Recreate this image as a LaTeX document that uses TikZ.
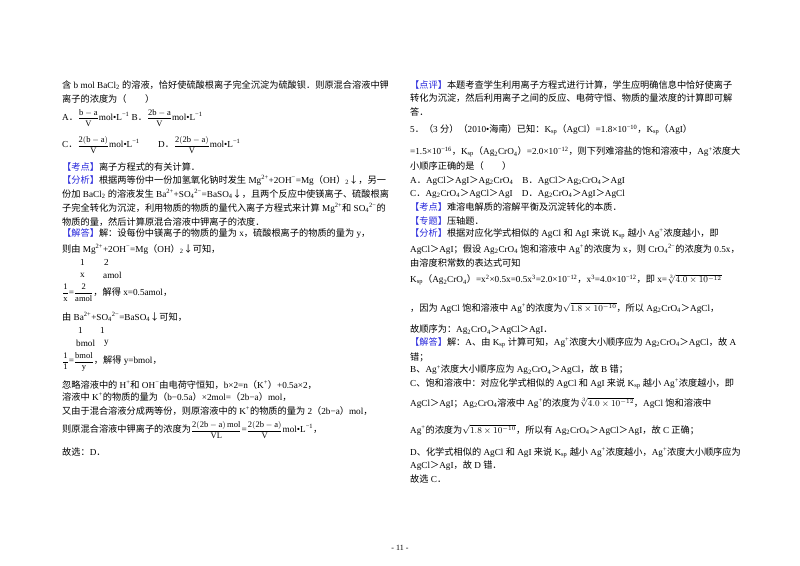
\documentclass[tikz,border=0pt]{standalone}
\usepackage{fontspec}
\usepackage{amsmath}
\setmainfont{Liberation Serif}
\newfontfamily\cjkfont{Noto Sans CJK SC}
\newfontfamily\latfont{Liberation Serif}
\XeTeXinterchartokenstate=1
\newXeTeXintercharclass\cjkclass
\newcount\cc
\def\setcls#1#2{\cc=#1 \loop\XeTeXcharclass\cc=\cjkclass\advance\cc 1 \ifnum\cc<#2 \repeat}
\setcls{"4E00}{"A000}
\setcls{"3000}{"3040}
\setcls{"FF00}{"FFF0}
\setcls{"2190}{"2194}
\XeTeXinterchartoks 0 \cjkclass = {\cjkfont}
\XeTeXinterchartoks 4095 \cjkclass = {\cjkfont}
\XeTeXinterchartoks \cjkclass 0 = {\latfont}
\XeTeXinterchartoks \cjkclass 4095 = {\latfont}
\definecolor{kblue}{RGB}{40,40,220}
\newcommand\SU[1]{\textsuperscript{#1}}
\newcommand\SB[1]{\textsubscript{#1}}
\newcommand\kd[1]{\textcolor{kblue}{\cjkfont【#1】}\cjkfont}
\newcommand\fr[2]{{\fontsize{8.5}{10}\selectfont$\dfrac{\mathrm{#1}}{\mathrm{#2}}$}}
\begin{document}
\begin{tikzpicture}[x=1pt,y=-1pt,every node/.style={anchor=west,inner sep=0pt,font=\fontsize{9.2}{11}\selectfont}]
\useasboundingbox[fill=white] (0,0) rectangle (800,565);
\node (l1) at (62,85) {含 b mol BaCl\SB{2} 的溶液，恰好使硫酸根离子完全沉淀为硫酸钡．则原混合溶液中钾};
\node (l2) at (62,99) {离子的浓度为（　　）};
\node (l3) at (62,118) {A．\fr{b-a}{V}mol•L\SU{−1} B．\fr{2b-a}{V}mol•L\SU{−1}};
\node (l4) at (62,145) {C．\fr{2(b-a)}{V}mol•L\SU{−1}\qquad D．\fr{2(2b-a)}{V}mol•L\SU{−1}};
\node (l5) at (62,167) {\kd{考点}离子方程式的有关计算．};
\node (l6) at (62,180) {\kd{分析}根据两等份中一份加氢氧化钠时发生 Mg\SU{2+}+2OH\SU{−}=Mg（OH）\SB{2}↓，另一};
\node (l7) at (62,194) {份加 BaCl\SB{2} 的溶液发生 Ba\SU{2+}+SO\SB{4}\SU{2−}=BaSO\SB{4}↓，且两个反应中使镁离子、硫酸根离};
\node (l8) at (62,208) {子完全转化为沉淀，利用物质的物质的量代入离子方程式来计算 Mg\SU{2+}和 SO\SB{4}\SU{2−}的};
\node (l9) at (62,222) {物质的量，然后计算原混合溶液中钾离子的浓度．};
\node (l10) at (62,234) {\kd{解答}解：设每份中镁离子的物质的量为 x，硫酸根离子的物质的量为 y，};
\node (l11) at (62,249) {则由 Mg\SU{2+}+2OH\SU{−}=Mg（OH）\SB{2}↓可知，};
\node (l12a) at (80,262) {1};
\node (l12b) at (104,262) {2};
\node (l13a) at (80,275) {x};
\node (l13b) at (103,275) {amol};
\node (l14) at (62,293) {\fr{1}{x}=\fr{2}{amol}，解得 x=0.5amol，};
\node (l15) at (62,317) {由 Ba\SU{2+}+SO\SB{4}\SU{2−}=BaSO\SB{4}↓可知，};
\node (l16a) at (78,330) {1};
\node (l16b) at (100,330) {1};
\node (l17a) at (76,343) {bmol};
\node (l17b) at (104,343) {y};
\node (l18) at (62,362) {\fr{1}{1}=\fr{bmol}{y}，解得 y=bmol，};
\node (l19) at (62,385) {忽略溶液中的 H\SU{+}和 OH\SU{−}由电荷守恒知，b×2=n（K\SU{+}）+0.5a×2，};
\node (l20) at (62,397) {溶液中 K\SU{+}的物质的量为（b−0.5a）×2mol=（2b−a）mol，};
\node (l21) at (62,411) {又由于混合溶液分成两等份，则原溶液中的 K\SU{+}的物质的量为 2（2b−a）mol，};
\node (l22) at (62,430) {则原混合溶液中钾离子的浓度为\fr{2(2b-a)\,mol}{VL}=\fr{2(2b-a)}{V}mol•L\SU{−1}，};
\node (l23) at (62,452) {故选：D．};
\node (r1) at (410,85) {\kd{点评}本题考查学生利用离子方程式进行计算，学生应明确信息中恰好使离子};
\node (r2) at (410,98) {转化为沉淀，然后利用离子之间的反应、电荷守恒、物质的量浓度的计算即可解};
\node (r3) at (410,112) {答．};
\node (r4) at (410,130) {5．（3 分）（2010•海南）已知：K\SB{sp}（AgCl）=1.8×10\SU{−10}，K\SB{sp}（AgI）};
\node (r5) at (410,152) {=1.5×10\SU{−16}，K\SB{sp}（Ag\SB{2}CrO\SB{4}）=2.0×10\SU{−12}，则下列难溶盐的饱和溶液中，Ag\SU{+}浓度大};
\node (r6) at (410,166) {小顺序正确的是（　　）};
\node (r7) at (410,181) {A．AgCl＞AgI＞Ag\SB{2}CrO\SB{4}\quad B．AgCl＞Ag\SB{2}CrO\SB{4}＞AgI};
\node (r8) at (410,194) {C．Ag\SB{2}CrO\SB{4}＞AgCl＞AgI\quad D．Ag\SB{2}CrO\SB{4}＞AgI＞AgCl};
\node (r9) at (410,207) {\kd{考点}难溶电解质的溶解平衡及沉淀转化的本质．};
\node (r10) at (410,221) {\kd{专题}压轴题．};
\node (r11) at (410,234) {\kd{分析}根据对应化学式相似的 AgCl 和 AgI 来说 K\SB{sp} 越小 Ag\SU{+}浓度越小，即};
\node (r12) at (410,249) {AgCl＞AgI；假设 Ag\SB{2}CrO\SB{4} 饱和溶液中 Ag\SU{+}的浓度为 x，则 CrO\SB{4}\SU{2−}的浓度为 0.5x，};
\node (r13) at (410,263) {由溶度积常数的表达式可知};
\node (r14) at (410,280) {K\SB{sp}（Ag\SB{2}CrO\SB{4}）=x\SU{2}×0.5x=0.5x\SU{3}=2.0×10\SU{−12}，x\SU{3}=4.0×10\SU{−12}，即 x=$\sqrt[3]{4.0\times10^{-12}}$};
\node (r15) at (410,308) {，因为 AgCl 饱和溶液中 Ag\SU{+}的浓度为$\sqrt{1.8\times10^{-10}}$，所以 Ag\SB{2}CrO\SB{4}＞AgCl，};
\node (r16) at (410,330) {故顺序为：Ag\SB{2}CrO\SB{4}＞AgCl＞AgI．};
\node (r17) at (410,343) {\kd{解答}解：A、由 K\SB{sp} 计算可知，Ag\SU{+}浓度大小顺序应为 Ag\SB{2}CrO\SB{4}＞AgCl，故 A};
\node (r18) at (410,357) {错；};
\node (r19) at (410,370) {B、Ag\SU{+}浓度大小顺序应为 Ag\SB{2}CrO\SB{4}＞AgCl，故 B 错；};
\node (r20) at (410,384) {C、饱和溶液中：对应化学式相似的 AgCl 和 AgI 来说 K\SB{sp} 越小 Ag\SU{+}浓度越小，即};
\node (r21) at (410,403) {AgCl＞AgI；Ag\SB{2}CrO\SB{4}溶液中 Ag\SU{+}的浓度为$\sqrt[3]{4.0\times10^{-12}}$，AgCl 饱和溶液中};
\node (r22) at (410,430) {Ag\SU{+}的浓度为$\sqrt{1.8\times10^{-10}}$，所以有 Ag\SB{2}CrO\SB{4}＞AgCl＞AgI，故 C 正确；};
\node (r23) at (410,453) {D、化学式相似的 AgCl 和 AgI 来说 K\SB{sp} 越小 Ag\SU{+}浓度越小，Ag\SU{+}浓度大小顺序应为};
\node (r24) at (410,466) {AgCl＞AgI，故 D 错．};
\node (r25) at (410,479) {故选 C．};
\node[anchor=center,font=\fontsize{8}{10}\selectfont] (pg) at (400,548) {- 11 -};
\end{tikzpicture}
\end{document}
